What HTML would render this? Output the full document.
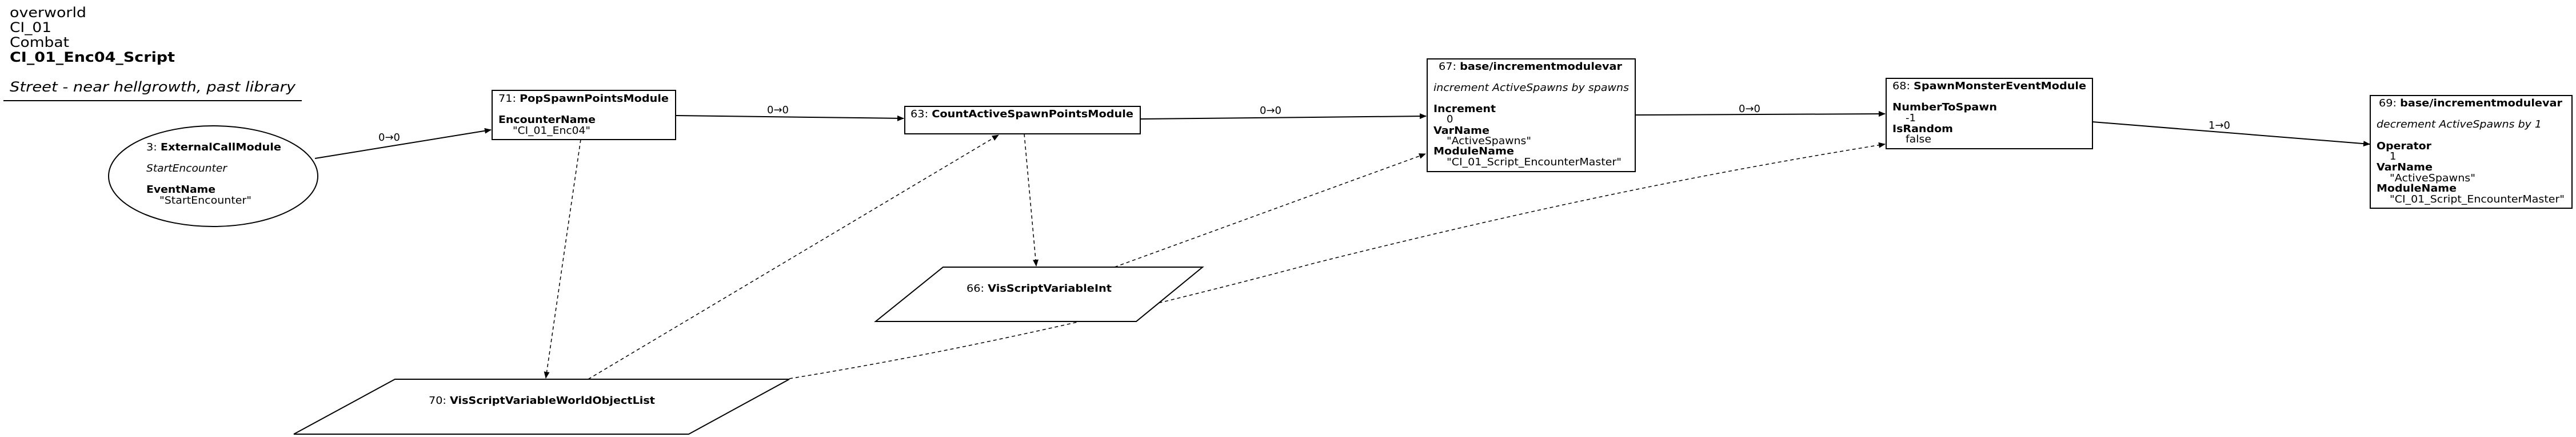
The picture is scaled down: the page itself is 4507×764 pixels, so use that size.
<!DOCTYPE html>
<html><head><meta charset="utf-8"><style>
html,body{margin:0;padding:0;background:#fff;}
svg{display:block;}
text{font-family:"DejaVu Sans","Liberation Sans",sans-serif;fill:#000;}
.n{font-size:18px;}
.b{font-weight:bold;}
.i{font-style:italic;}
</style></head><body>
<svg width="4507" height="764" viewBox="0 0 4507 764" xmlns="http://www.w3.org/2000/svg">
<defs>
<marker id="a" markerWidth="12" markerHeight="10" refX="11" refY="5" orient="auto" markerUnits="userSpaceOnUse">
<path d="M0,0 L12,5 L0,10 z" fill="#000"/></marker>
</defs>
<!-- header -->
<text x="17" y="30" font-size="24" textLength="134" lengthAdjust="spacingAndGlyphs">overworld</text>
<text x="17" y="56" font-size="24" textLength="73" lengthAdjust="spacingAndGlyphs">CI_01</text>
<text x="17" y="82" font-size="24" textLength="104" lengthAdjust="spacingAndGlyphs">Combat</text>
<text x="17" y="108" font-size="24" font-weight="bold" textLength="289" lengthAdjust="spacingAndGlyphs">CI_01_Enc04_Script</text>
<text x="17" y="160" font-size="24" font-style="italic" textLength="500" lengthAdjust="spacingAndGlyphs">Street - near hellgrowth, past library</text>
<line x1="6" y1="176" x2="528" y2="176" stroke="#000" stroke-width="2"/>

<!-- edges solid -->
<g stroke="#000" stroke-width="2" fill="none">
<line x1="551" y1="277" x2="859" y2="227" marker-end="url(#a)"/>
<line x1="1182" y1="202" x2="1581" y2="207" marker-end="url(#a)"/>
<line x1="1995" y1="208" x2="2495" y2="203" marker-end="url(#a)"/>
<line x1="2861" y1="201" x2="3298" y2="199" marker-end="url(#a)"/>
<line x1="3661" y1="213" x2="4146" y2="252" marker-end="url(#a)"/>
</g>
<g font-size="18">
<text x="662" y="246" textLength="38" lengthAdjust="spacingAndGlyphs">0→0</text>
<text x="1342" y="198" textLength="38" lengthAdjust="spacingAndGlyphs">0→0</text>
<text x="2204" y="199" textLength="38" lengthAdjust="spacingAndGlyphs">0→0</text>
<text x="3042" y="196" textLength="38" lengthAdjust="spacingAndGlyphs">0→0</text>
<text x="3864" y="225" textLength="38" lengthAdjust="spacingAndGlyphs">1→0</text>
</g>
<!-- dashed edges -->
<g stroke="#000" stroke-width="1.5" fill="none" stroke-dasharray="6,5">
<line x1="1016" y1="244" x2="955" y2="661" marker-end="url(#a)"/>
<line x1="1029" y1="663" x2="1747" y2="236" marker-end="url(#a)"/>
<line x1="1792" y1="234" x2="1813" y2="465" marker-end="url(#a)"/>
<line x1="1950" y1="467" x2="2494" y2="269" marker-end="url(#a)"/>
<path d="M1381,662 C1700,610 2000,540 2300,460 C2700,360 3000,300 3298,252" marker-end="url(#a)"/>
</g>

<!-- node 3 ellipse -->
<ellipse cx="373" cy="308" rx="183" ry="88" fill="#fff" stroke="#000" stroke-width="2"/>
<text class="n" x="256" y="263" textLength="236" lengthAdjust="spacingAndGlyphs"><tspan>3: </tspan><tspan class="b">ExternalCallModule</tspan></text>
<text class="n i" x="256" y="300" textLength="141" lengthAdjust="spacingAndGlyphs">StartEncounter</text>
<text class="n b" x="256" y="337" textLength="121" lengthAdjust="spacingAndGlyphs">EventName</text>
<text class="n" x="279" y="356" textLength="161" lengthAdjust="spacingAndGlyphs">"StartEncounter"</text>

<!-- node 71 -->
<rect x="861" y="158" width="321" height="86" fill="#fff" stroke="#000" stroke-width="2"/>
<text class="n" x="872" y="178" textLength="298" lengthAdjust="spacingAndGlyphs"><tspan>71: </tspan><tspan class="b">PopSpawnPointsModule</tspan></text>
<text class="n b" x="872" y="215" textLength="170" lengthAdjust="spacingAndGlyphs">EncounterName</text>
<text class="n" x="897" y="234" textLength="136" lengthAdjust="spacingAndGlyphs">"CI_01_Enc04"</text>

<!-- node 63 -->
<rect x="1583" y="186" width="412" height="48" fill="#fff" stroke="#000" stroke-width="2"/>
<text class="n" x="1593" y="205" textLength="390" lengthAdjust="spacingAndGlyphs"><tspan>63: </tspan><tspan class="b">CountActiveSpawnPointsModule</tspan></text>

<!-- node 67 -->
<rect x="2497" y="103" width="364" height="197" fill="#fff" stroke="#000" stroke-width="2"/>
<text class="n" x="2517" y="122" textLength="321" lengthAdjust="spacingAndGlyphs"><tspan>67: </tspan><tspan class="b">base/incrementmodulevar</tspan></text>
<text class="n i" x="2508" y="159" textLength="342" lengthAdjust="spacingAndGlyphs">increment ActiveSpawns by spawns</text>
<text class="n b" x="2508" y="196" textLength="109" lengthAdjust="spacingAndGlyphs">Increment</text>
<text class="n" x="2531" y="214">0</text>
<text class="n b" x="2508" y="234" textLength="98" lengthAdjust="spacingAndGlyphs">VarName</text>
<text class="n" x="2531" y="252" textLength="148" lengthAdjust="spacingAndGlyphs">"ActiveSpawns"</text>
<text class="n b" x="2508" y="270" textLength="141" lengthAdjust="spacingAndGlyphs">ModuleName</text>
<text class="n" x="2531" y="289" textLength="306" lengthAdjust="spacingAndGlyphs">"CI_01_Script_EncounterMaster"</text>

<!-- node 68 -->
<rect x="3300" y="137" width="361" height="123" fill="#fff" stroke="#000" stroke-width="2"/>
<text class="n" x="3311" y="156" textLength="339" lengthAdjust="spacingAndGlyphs"><tspan>68: </tspan><tspan class="b">SpawnMonsterEventModule</tspan></text>
<text class="n b" x="3311" y="193" textLength="183" lengthAdjust="spacingAndGlyphs">NumberToSpawn</text>
<text class="n" x="3334" y="212" textLength="18" lengthAdjust="spacingAndGlyphs">-1</text>
<text class="n b" x="3311" y="231" textLength="106" lengthAdjust="spacingAndGlyphs">IsRandom</text>
<text class="n" x="3334" y="249" textLength="45" lengthAdjust="spacingAndGlyphs">false</text>

<!-- node 69 -->
<rect x="4147" y="167" width="353" height="197" fill="#fff" stroke="#000" stroke-width="2"/>
<text class="n" x="4162" y="186" textLength="321" lengthAdjust="spacingAndGlyphs"><tspan>69: </tspan><tspan class="b">base/incrementmodulevar</tspan></text>
<text class="n i" x="4158" y="223" textLength="289" lengthAdjust="spacingAndGlyphs">decrement ActiveSpawns by 1</text>
<text class="n b" x="4158" y="261" textLength="96" lengthAdjust="spacingAndGlyphs">Operator</text>
<text class="n" x="4181" y="279">1</text>
<text class="n b" x="4158" y="298" textLength="98" lengthAdjust="spacingAndGlyphs">VarName</text>
<text class="n" x="4181" y="317" textLength="150" lengthAdjust="spacingAndGlyphs">"ActiveSpawns"</text>
<text class="n b" x="4158" y="335" textLength="140" lengthAdjust="spacingAndGlyphs">ModuleName</text>
<text class="n" x="4181" y="354" textLength="306" lengthAdjust="spacingAndGlyphs">"CI_01_Script_EncounterMaster"</text>

<!-- node 66 -->
<polygon points="1650,467 2104,467 1988,562 1532,562" fill="#fff" stroke="#000" stroke-width="2"/>
<text class="n" x="1691" y="510" textLength="254" lengthAdjust="spacingAndGlyphs"><tspan>66: </tspan><tspan class="b">VisScriptVariableInt</tspan></text>

<!-- node 70 -->
<polygon points="691,663 1381,663 1205,759 514,759" fill="#fff" stroke="#000" stroke-width="2"/>
<text class="n" x="750" y="706" textLength="396" lengthAdjust="spacingAndGlyphs"><tspan>70: </tspan><tspan class="b">VisScriptVariableWorldObjectList</tspan></text>
</svg>
</body></html>
